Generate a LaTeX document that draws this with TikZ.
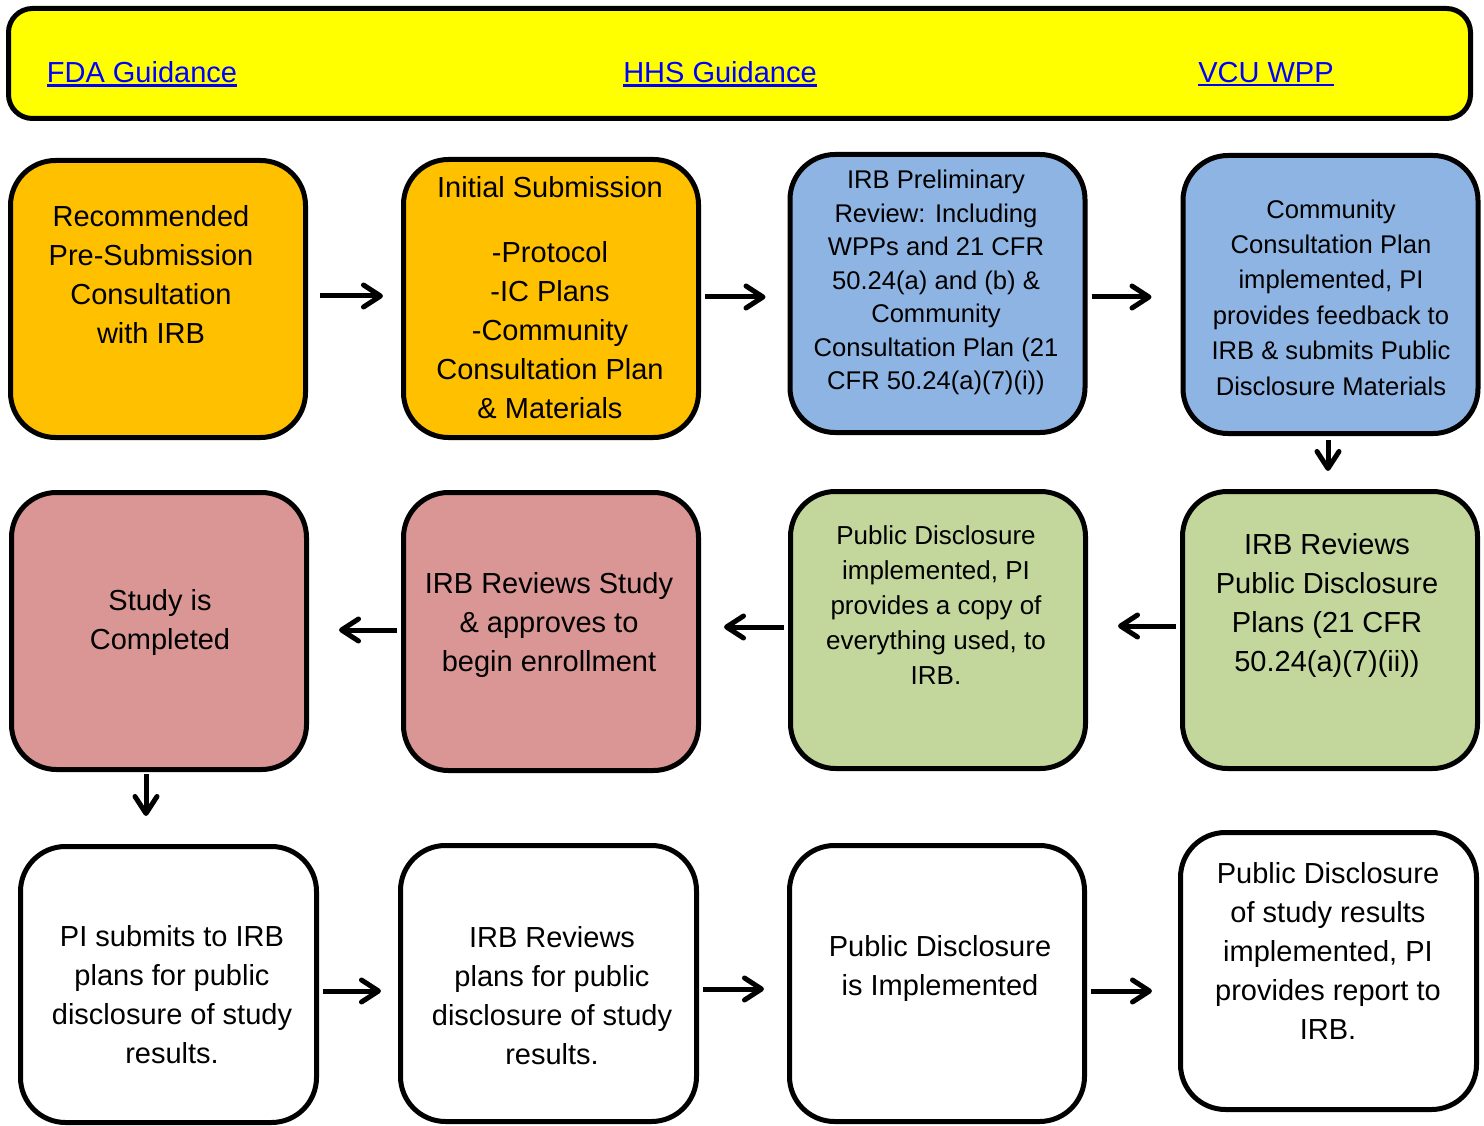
\documentclass[tikz,border=0pt]{standalone}
\usepackage{fontspec}
\setmainfont{Liberation Sans}
\usetikzlibrary{arrows.meta}
\definecolor{ylw}{HTML}{FFFF00}
\definecolor{orng}{HTML}{FFC000}
\definecolor{blu}{HTML}{8EB4E3}
\definecolor{rd}{HTML}{D99694}
\definecolor{grn}{HTML}{C3D69B}
\definecolor{lnk}{HTML}{0000FF}
\newcommand\ulink[1]{\setbox0\hbox{#1}\rlap{\raisebox{-4pt}{\rule{\wd0}{2.4pt}}}\box0}
\begin{document}
\begin{tikzpicture}[x=1pt,y=-1pt,
  box/.style={draw=black, line width=5pt, rounded corners=45pt, minimum width=295pt, minimum height=277pt, inner sep=0pt},
  big/.style={align=center, font=\fontsize{29}{39}\selectfont, inner sep=0pt},
  small/.style={align=center, font=\fontsize{25.6}{33.5}\selectfont, inner sep=0pt},
  arr/.style={line width=5pt, -{Straight Barb[round,length=17pt,width=22pt,line width=5pt]}},
  link/.style={text=lnk, font=\fontsize{29}{35}\selectfont, inner sep=0pt}]
\useasboundingbox (0,0) rectangle (1484,1126);
% header
\node[draw=black, line width=5pt, rounded corners=24pt, fill=ylw, minimum width=1462pt, minimum height=110pt, inner sep=0pt] (top) at (739.5,63.5) {};
\node[link] (fda) at (142,74) {\ulink{FDA Guidance}};
\node[link] (hhs) at (720,74) {\ulink{HHS Guidance}};
\node[link] (vcu) at (1266,74) {\ulink{VCU WPP}};
% row 1
\node[box, fill=orng] (b1) at (158,299) {};
\node[box, fill=orng, minimum height=278pt] (b2) at (551,298.5) {};
\node[box, fill=blu, minimum height=278pt] (b3) at (937.5,293.5) {};
\node[box, fill=blu, minimum height=278pt] (b4) at (1330.5,294.5) {};
\node[big] (t1) at (151,274.5) {Recommended\\Pre-Submission\\Consultation\\with IRB};
\node[big] (t2) at (550,298) {Initial Submission\\[26pt]-Protocol\\-IC Plans\\-Community\\Consultation Plan\\\& Materials};
\node[small] (t3) at (936,282.5) {IRB Preliminary\\Review: Including\\WPPs and 21 CFR\\50.24(a) and (b) \&\\Community\\Consultation Plan (21\\CFR 50.24(a)(7)(i))};
\node[small, font=\fontsize{25.6}{35.4}\selectfont] (t4) at (1331,297.5) {Community\\Consultation Plan\\implemented, PI\\provides feedback to\\IRB \& submits Public\\Disclosure Materials};
% row 2
\node[box, fill=rd] (b5) at (159,631) {};
\node[box, fill=rd, minimum height=278pt] (b6) at (551,631.5) {};
\node[box, fill=grn] (b7) at (938,630) {};
\node[box, fill=grn] (b8) at (1330,630) {};
\node[big] (t5) at (160,622) {Study is\\Completed};
\node[big] (t6) at (549,625) {IRB Reviews Study\\\& approves to\\begin enrollment};
\node[small, font=\fontsize{26}{35}\selectfont] (t7) at (936,605) {Public Disclosure\\implemented, PI\\provides a copy of\\everything used, to\\IRB.};
\node[big] (t8) at (1327,605.5) {IRB Reviews\\Public Disclosure\\Plans (21 CFR\\50.24(a)(7)(ii))};
% row 3
\node[box, fill=white, minimum width=296pt, minimum height=276pt] (b9) at (168.5,984.5) {};
\node[box, fill=white, minimum width=296pt, minimum height=276pt] (b10) at (548.5,983.5) {};
\node[box, fill=white, minimum height=276pt] (b11) at (937,983.5) {};
\node[box, fill=white, minimum width=296pt, minimum height=277pt] (b12) at (1328.5,971) {};
\node[big] (t9) at (172,994.5) {PI submits to IRB\\plans for public\\disclosure of study\\results.};
\node[big] (t10) at (552,995.5) {IRB Reviews\\plans for public\\disclosure of study\\results.};
\node[big] (t11) at (940,968.5) {Public Disclosure\\is Implemented};
\node[big] (t12) at (1328,950.5) {Public Disclosure\\of study results\\implemented, PI\\provides report to\\IRB.};
% arrows
\draw[arr, shorten <=12pt, shorten >=18pt] ([yshift=3pt]b1.east) -- ([yshift=3pt]b1.east -| b2.west);
\draw[arr, shorten <=4pt, shorten >=22pt] ([yshift=1.5pt]b2.east) -- ([yshift=1.5pt]b2.east -| b3.west);
\draw[arr, shorten <=4pt, shorten >=29pt] ([yshift=-3.5pt]b3.east) -- ([yshift=-3.5pt]b3.east -| b4.west);
\draw[arr, shorten <=4pt, shorten >=18pt] ([xshift=-2.5pt]b4.south) -- ([xshift=-2.5pt]b4.south |- b8.north);
\draw[arr, shorten <=4pt, shorten >=30pt] ([yshift=4pt]b8.west) -- ([yshift=4pt]b8.west -| b7.east);
\draw[arr, shorten <=4pt, shorten >=23pt] ([yshift=3pt]b7.west) -- ([yshift=3pt]b7.west -| b6.east);
\draw[arr, shorten <=4pt, shorten >=30pt] ([yshift=1.5pt]b6.west) -- ([yshift=1.5pt]b6.west -| b5.east);
\draw[arr, shorten <=2pt, shorten >=28pt] ([xshift=-13pt]b5.south) -- ([xshift=-13pt]b5.south |- b9.north);
\draw[arr, shorten <=4pt, shorten >=17pt] ([yshift=-6.5pt]b9.east) -- ([yshift=-6.5pt]b9.east -| b10.west);
\draw[arr, shorten <=4pt, shorten >=23pt] ([yshift=-5.5pt]b10.east) -- ([yshift=-5.5pt]b10.east -| b11.west);
\draw[arr, shorten <=4pt, shorten >=26pt] ([yshift=-7.5pt]b11.east) -- ([yshift=-7.5pt]b11.east -| b12.west);
\end{tikzpicture}
\end{document}
